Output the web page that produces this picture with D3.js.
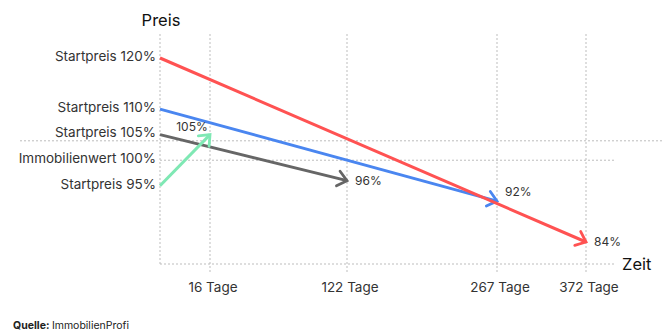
<!DOCTYPE html>
<html>
<head>
<meta charset="utf-8">
<script src="https://cdn.jsdelivr.net/npm/d3@7"></script>
<style>
  html, body { margin: 0; padding: 0; background: #fff; }
  svg { display: block; font-family: Inter, "Noto Sans", sans-serif; }
</style>
</head>
<body>
<svg id="chart" width="664" height="333"></svg>
<script>
// Price paths: start price (%) at day 0 falling/rising to a final price at a given day
const seriesNames = ["Startpreis 120%", "Startpreis 110%", "Startpreis 105%", "Startpreis 95%"];
const startValues = [120, 110, 105, 95];
const endValues = [84, 92, 96, 105];
const endDays = [372, 267, 122, 16];
const seriesColors = ["#ff5252", "#4a86f0", "#666666", "#7fe8b4"];

// Axis labels
const yLabelValues = [120, 110, 105, 100, 95];
const yLabelTexts = ["Startpreis 120%", "Startpreis 110%", "Startpreis 105%", "Immobilienwert 100%", "Startpreis 95%"];
const xTickDays = [16, 122, 267, 372];
const xTickLabels = ["16 Tage", "122 Tage", "267 Tage", "372 Tage"];
// horizontal guide lines (price %)
const guideValues = [103.8, 100];

const svg = d3.select("#chart");

// Layout
const plotLeft = 160, plotRight = 586, plotTop = 34, plotBottom = 264;
// relative position of each tick day along the (non-uniform) time axis
const xStops = [0, 0.1174, 0.439, 0.7911, 1];

const x = d3.scaleLinear()
  .domain([0, ...xTickDays])
  .range(xStops.map(f => plotLeft + f * (plotRight - plotLeft)));

const y = d3.scaleLinear().domain([84, 120]).range([242, 58]);

const grid = "#bdbdbd";
const gridDash = "2,2";

// vertical grid lines
svg.append("line")
  .attr("x1", x(0)).attr("x2", x(0)).attr("y1", plotTop).attr("y2", plotBottom)
  .attr("stroke", grid).attr("stroke-dasharray", gridDash);
svg.selectAll("line.vgrid").data(xTickDays).join("line")
  .attr("class", "vgrid")
  .attr("x1", d => x(d)).attr("x2", d => x(d))
  .attr("y1", plotTop).attr("y2", plotBottom + 8)
  .attr("stroke", grid).attr("stroke-dasharray", gridDash);

// horizontal guide lines
svg.append("line")
  .attr("x1", 20).attr("x2", 664).attr("y1", y(guideValues[0])).attr("y2", y(guideValues[0]))
  .attr("stroke", grid).attr("stroke-dasharray", gridDash);
svg.append("line")
  .attr("x1", plotLeft).attr("x2", 614).attr("y1", y(guideValues[1])).attr("y2", y(guideValues[1]))
  .attr("stroke", grid).attr("stroke-dasharray", gridDash);
// bottom axis line
svg.append("line")
  .attr("x1", plotLeft).attr("x2", 614).attr("y1", plotBottom).attr("y2", plotBottom)
  .attr("stroke", grid).attr("stroke-dasharray", gridDash);

// arrow markers, one per colour
const defs = svg.append("defs");
seriesColors.forEach((c, i) => {
  defs.append("marker")
    .attr("id", "arrow" + i)
    .attr("markerUnits", "userSpaceOnUse")
    .attr("viewBox", "-12 -10 14 20")
    .attr("markerWidth", 14).attr("markerHeight", 20)
    .attr("refX", 0).attr("refY", 0)
    .attr("orient", "auto")
    .append("path")
    .attr("d", "M-9,-7.5L0,0L-9,7.5")
    .attr("fill", "none")
    .attr("stroke", c)
    .attr("stroke-width", 2.8)
    .attr("stroke-linecap", "round")
    .attr("stroke-linejoin", "miter");
});

// series lines, drawn back to front
const order = [2, 1, 0, 3];
order.forEach(i => {
  svg.append("line")
    .attr("x1", x(0)).attr("y1", y(startValues[i]))
    .attr("x2", x(endDays[i])).attr("y2", y(endValues[i]))
    .attr("stroke", seriesColors[i])
    .attr("stroke-width", 3)
    .attr("marker-end", "url(#arrow" + i + ")");
});

// y labels
svg.selectAll("text.ylab").data(yLabelValues).join("text")
  .attr("class", "ylab")
  .attr("x", 156)
  .attr("y", d => y(d) - 2)
  .attr("dy", "0.35em")
  .attr("text-anchor", "end")
  .attr("fill", "#333")
  .attr("font-size", 13.5)
  .text((d, i) => yLabelTexts[i]);

// x labels
svg.selectAll("text.xlab").data(xTickDays).join("text")
  .attr("class", "xlab")
  .attr("x", d => x(d) + 3)
  .attr("y", 292)
  .attr("text-anchor", "middle")
  .attr("fill", "#333")
  .attr("font-size", 13.5)
  .text((d, i) => xTickLabels[i]);

// end value labels
const fmt = v => v + "%";
// green arrow: label above-left of the tip
svg.append("text")
  .attr("x", x(endDays[3]) - 18).attr("y", y(endValues[3]) - 8)
  .attr("dy", "0.35em").attr("text-anchor", "middle")
  .attr("fill", "#333").attr("font-size", 12)
  .text(fmt(endValues[3]));
[2, 1, 0].forEach(i => {
  svg.append("text")
    .attr("x", x(endDays[i]) + 8).attr("y", y(endValues[i]) - (i === 1 ? 9 : 0))
    .attr("dy", "0.35em")
    .attr("fill", "#333").attr("font-size", 12)
    .text(fmt(endValues[i]));
});

// axis titles
svg.append("text").attr("x", 161).attr("y", 26).attr("text-anchor", "middle")
  .attr("fill", "#111").attr("font-size", 16.5).text("Preis");
svg.append("text").attr("x", 622).attr("y", 270)
  .attr("fill", "#111").attr("font-size", 16.5).text("Zeit");

// source
const src = svg.append("text").attr("x", 13).attr("y", 329)
  .attr("fill", "#222").attr("font-size", 10.5);
src.append("tspan").attr("font-weight", 700).text("Quelle: ");
src.append("tspan").text("ImmobilienProfi");
</script>
</body>
</html>
